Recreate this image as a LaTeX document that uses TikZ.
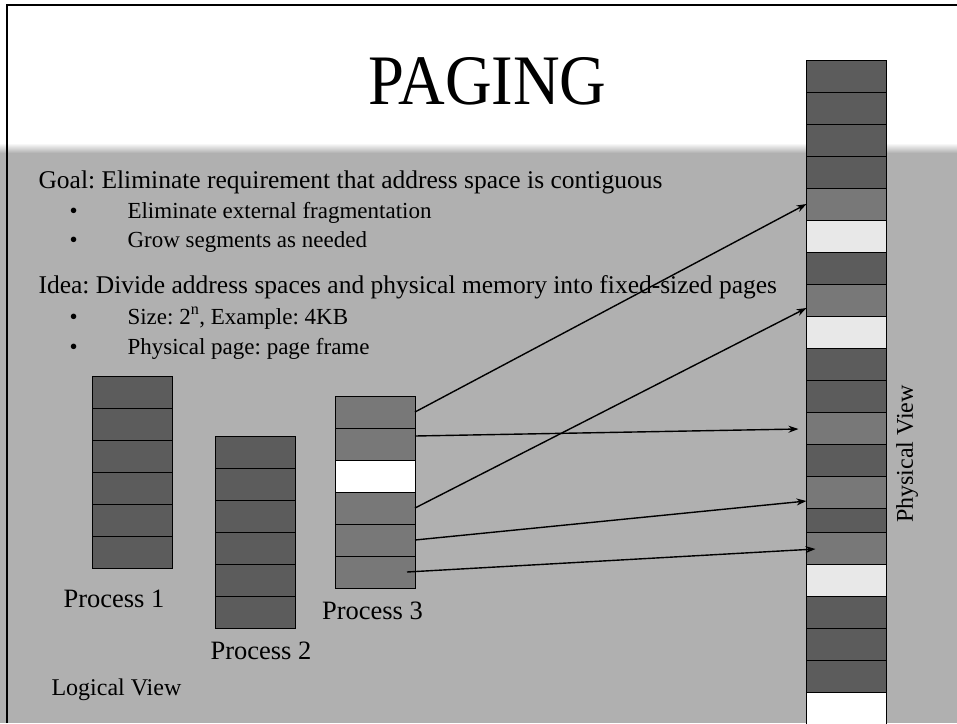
\documentclass[tikz,border=0pt]{standalone}
\usepackage{fontspec}
\setmainfont{Liberation Serif}
\usetikzlibrary{positioning,calc,arrows.meta}
\definecolor{slidegray}{RGB}{176,176,176}
\definecolor{pagedark}{RGB}{92,92,92}
\definecolor{pagemid}{RGB}{120,120,120}
\definecolor{pagelight}{RGB}{232,232,232}
\tikzset{
  pagebox/.style={
    draw=black,
    line width=1pt,
    minimum width=80pt,
    minimum height=32pt,
    inner sep=0pt,
    outer sep=0pt
  },
  mapping/.style={
    -{Stealth[length=10pt,width=7pt]},
    line width=1.4pt
  }
}
\frenchspacing

\begin{document}
\begin{tikzpicture}[x=1pt,y=-1pt]
    \useasboundingbox (0,0) rectangle (957,723);
    % slide background
    \fill[white] (0,0) rectangle (957,723);
    \shade[top color=white, bottom color=slidegray] (0,143) rectangle (957,153);
    \fill[slidegray] (0,153) rectangle (957,723);
    \draw[line width=2pt] (7,723) -- (7,5) -- (957,5);

    \node[anchor=base, font=\fontsize{71}{71}\selectfont] (Title) at (487.5,104)
      {\scalebox{0.91}[1]{PAGING}};

    \node[anchor=base west, font=\fontsize{25.5}{30}\selectfont] (Goal) at (35,188)
      {Goal: Eliminate requirement that address space is contiguous};
    \node[anchor=base west, font=\fontsize{23}{27}\selectfont] (GoalA) at (66,218)
      {\makebox[58pt][l]{\textbullet}Eliminate external fragmentation};
    \node[anchor=base west, font=\fontsize{23}{27}\selectfont] (GoalB) at (66,247)
      {\makebox[58pt][l]{\textbullet}Grow segments as needed};
    \node[anchor=base west, font=\fontsize{25.5}{30}\selectfont] (Idea) at (35,293)
      {Idea: Divide address spaces and physical memory into fixed-sized pages};
    \node[anchor=base west, font=\fontsize{23}{27}\selectfont] (IdeaA) at (66,324)
      {\makebox[58pt][l]{\textbullet}Size: 2\textsuperscript{n}, Example: 4KB};
    \node[anchor=base west, font=\fontsize{23}{27}\selectfont] (IdeaB) at (66,354)
      {\makebox[58pt][l]{\textbullet}Physical page: page frame};

    % physical memory
    \foreach \c/\y/\h [count=\i] in {pagedark/76/32, pagedark/108/32, pagedark/140/32,
      pagedark/172/32, pagemid/204/32, pagelight/236/32, pagedark/268/32, pagemid/300/32,
      pagelight/332/32, pagedark/364/32, pagedark/396/32, pagemid/428/32, pagedark/460/32,
      pagemid/492/32, pagedark/520/24, pagemid/548/32, pagelight/580/32, pagedark/612/32,
      pagedark/644/32, pagedark/676/32, white/708/32}
      \node[pagebox, fill=\c, minimum height=\h pt] (Frame\i) at (846.5,\y) {};

    % logical pages
    \foreach \i in {1,...,6}
      \node[pagebox, fill=pagedark] (ProcA\i) at (132,360+32*\i) {};
    \foreach \i in {1,...,6}
      \node[pagebox, fill=pagedark] (ProcB\i) at (255,420+32*\i) {};
    \foreach \c [count=\i] in {pagemid,pagemid,white,pagemid,pagemid,pagemid}
      \node[pagebox, fill=\c] (ProcC\i) at (375,380+32*\i) {};

    \node[anchor=base, font=\fontsize{26.5}{30}\selectfont] (LabelA) at (114,607) {Process 1};
    \node[anchor=base, font=\fontsize{26.5}{30}\selectfont] (LabelB) at (261,659) {Process 2};
    \node[anchor=base, font=\fontsize{26.5}{30}\selectfont] (LabelC) at (372.5,619) {Process 3};
    \node[anchor=base west, font=\fontsize{24}{28}\selectfont] (Logical) at (48,695) {Logical View};
    \node[rotate=90, font=\fontsize{24}{28}\selectfont] (Physical) at (907,454) {Physical View};

    % page table mapping
    \draw[mapping] (ProcC1.east) -- (Frame5.west);
    \draw[mapping] ($(ProcC2.east)+(0,-8)$) -- ($(Frame12.west)+(-8,1)$);
    \draw[mapping] (ProcC4.east) -- ($(Frame8.west)+(0,8)$);
    \draw[mapping] (ProcC5.east) -- ($(Frame14.west)+(0,9)$);
    \draw[mapping] ($(ProcC6.east)+(-8,0)$) -- ($(Frame16.west)+(9,1)$);
\end{tikzpicture}
\end{document}
